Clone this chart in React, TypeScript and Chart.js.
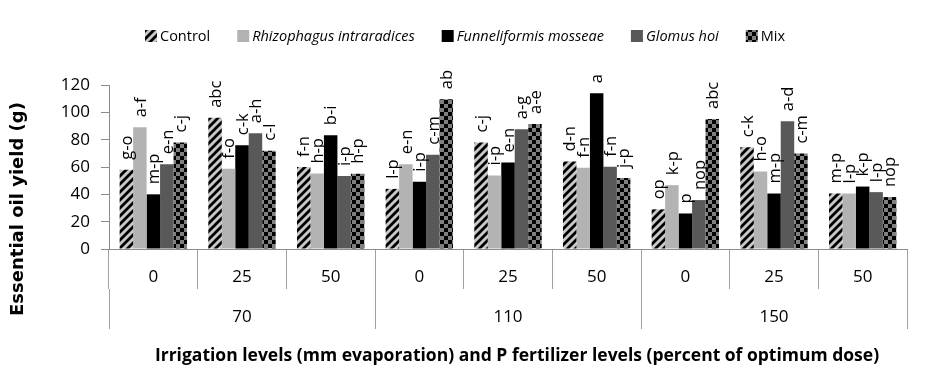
import React, { useEffect, useRef } from "react";
import { Chart, registerables } from "chart.js";

Chart.register(...registerables);

// ---- data ----
const subLabels = ["0", "25", "50", "0", "25", "50", "0", "25", "50"];
const groupLabels = ["70", "110", "150"];
const seriesNames = [
  "Control",
  "Rhizophagus intraradices",
  "Funneliformis mosseae",
  "Glomus hoi",
  "Mix",
];
const controlValues = [58, 96, 60, 44, 78, 64, 29, 74.5, 40.6];
const rhizoValues = [89, 58.7, 55.2, 62, 53.8, 59.4, 46.7, 56.7, 40.6];
const funnelValues = [40, 76, 83.3, 49.2, 63.3, 114, 26, 40.6, 45.7];
const glomusValues = [62, 84.7, 53.5, 69, 87.7, 60.1, 35.8, 93.5, 41.6];
const mixValues = [78, 71.8, 55, 109.6, 91.5, 51.9, 95.2, 69.8, 38];

const controlLetters = ["g-o", "abc", "f-n", "l-p", "c-j", "d-n", "op", "c-k", "m-p"];
const rhizoLetters = ["a-f", "f-o", "h-p", "e-n", "i-p", "f-n", "k-p", "h-o", "l-p"];
const funnelLetters = ["m-p", "c-k", "b-i", "i-p", "e-n", "a", "p", "m-p", "k-p"];
const glomusLetters = ["e-n", "a-h", "i-p", "c-m", "a-g", "f-n", "nop", "a-d", "l-p"];
const mixLetters = ["c-j", "c-l", "h-p", "ab", "a-e", "j-p", "abc", "c-m", "nop"];

const yTitle = "Essential oil yield (g)";
const xTitle =
  "Irrigation levels (mm evaporation) and P fertilizer levels (percent of optimum dose)";

const FONT = "'Open Sans', 'Noto Sans', sans-serif";

function makeHatch(): CanvasPattern | string {
  const c = document.createElement("canvas");
  c.width = 8;
  c.height = 8;
  const g = c.getContext("2d")!;
  g.fillStyle = "#c8c8c8";
  g.fillRect(0, 0, 8, 8);
  g.strokeStyle = "#000";
  g.lineWidth = 2.8;
  g.beginPath();
  g.moveTo(-2, 10);
  g.lineTo(10, -2);
  g.moveTo(-2, 2);
  g.lineTo(2, -2);
  g.moveTo(6, 10);
  g.lineTo(10, 6);
  g.stroke();
  return g.createPattern(c, "repeat") || "#999";
}

function makeChecker(): CanvasPattern | string {
  const c = document.createElement("canvas");
  c.width = 8;
  c.height = 8;
  const g = c.getContext("2d")!;
  g.fillStyle = "#808080";
  g.fillRect(0, 0, 8, 8);
  g.fillStyle = "#000";
  g.fillRect(0, 0, 4, 4);
  g.fillRect(4, 4, 4, 4);
  return g.createPattern(c, "repeat") || "#444";
}

export default function App() {
  const ref = useRef<HTMLCanvasElement | null>(null);

  useEffect(() => {
    document.body.style.margin = "0";
    const canvas = ref.current;
    if (!canvas) return;
    const hatch = makeHatch();
    const checker = makeChecker();
    const fills = [hatch, "#b3b3b3", "#000000", "#595959", checker];
    const values = [controlValues, rhizoValues, funnelValues, glomusValues, mixValues];
    const letters = [controlLetters, rhizoLetters, funnelLetters, glomusLetters, mixLetters];

    const barLabelPlugin = {
      id: "barLetters",
      afterDatasetsDraw(chart: any) {
        const ctx = chart.ctx;
        ctx.save();
        ctx.font = `16.5px ${FONT}`;
        ctx.fillStyle = "#000";
        ctx.textAlign = "left";
        ctx.textBaseline = "middle";
        chart.data.datasets.forEach((ds: any, di: number) => {
          const meta = chart.getDatasetMeta(di);
          meta.data.forEach((bar: any, i: number) => {
            const txt = letters[di][i];
            ctx.save();
            ctx.translate(bar.x + 1, bar.y - 10);
            ctx.rotate(-Math.PI / 2);
            ctx.fillText(txt, 0, 0);
            ctx.restore();
          });
        });
        ctx.restore();
      },
    };

    const decorPlugin = {
      id: "decor",
      afterDraw(chart: any) {
        const ctx = chart.ctx;
        // y title centred on plot + category area
        ctx.save();
        ctx.font = `bold 18px 'DejaVu Sans', sans-serif`;
        ctx.fillStyle = "#000";
        ctx.textAlign = "center";
        ctx.textBaseline = "middle";
        ctx.translate(18, 209);
        ctx.rotate(-Math.PI / 2);
        ctx.fillText(yTitle, 0, 0);
        ctx.restore();

        // x title
        ctx.save();
        ctx.font = `bold 17.5px ${FONT}`;
        ctx.fillStyle = "#000";
        ctx.textAlign = "center";
        ctx.textBaseline = "middle";
        ctx.fillText(xTitle, 517, 356);
        ctx.restore();

        // legend
        ctx.save();
        const box = 12;
        const gapIcon = 3;
        const gapItem = 27;
        const fontsFor = (i: number) =>
          i >= 1 && i <= 3 ? `italic 14.5px ${FONT}` : `14.5px ${FONT}`;
        let x = 145;
        const yc = 36;
        seriesNames.forEach((n, i) => {
          ctx.fillStyle = fills[i] as any;
          ctx.fillRect(x, yc - box / 2, box, box);
          ctx.fillStyle = "#000";
          ctx.font = fontsFor(i);
          ctx.textAlign = "left";
          ctx.textBaseline = "middle";
          ctx.fillText(n, x + box + gapIcon, yc + 1);
          const w = ctx.measureText(n).width;
          x += box + gapIcon + w + gapItem;
        });
        ctx.restore();
      },
    };

    const chart = new Chart(canvas, {
      type: "bar",
      data: {
        labels: subLabels,
        datasets: seriesNames.map((name, i) => ({
          label: name,
          data: values[i],
          backgroundColor: fills[i] as any,
          borderWidth: 0,
          xAxisID: "x",
          yAxisID: "y",
          categoryPercentage: 0.76,
          barPercentage: 1,
        })),
      },
      options: {
        animation: false,
        responsive: false,
        maintainAspectRatio: false,
        layout: { padding: { left: 0, right: 24, top: 85, bottom: 0 } },
        plugins: {
          legend: { display: false },
          tooltip: { enabled: false },
        },
        scales: {
          y: {
            min: 0,
            max: 120,
            ticks: {
              stepSize: 20,
              padding: 11,
              color: "#000",
              font: { family: FONT, size: 17 },
            },
            grid: {
              drawOnChartArea: false,
              drawTicks: true,
              tickLength: 8,
              color: "#8c8c8c",
            },
            border: { display: true, color: "#8c8c8c" },
            afterFit: (s: any) => {
              s.width = 109;
            },
          },
          x: {
            type: "category",
            position: "bottom",
            offset: true,
            grid: {
              offset: true,
              drawOnChartArea: false,
              drawTicks: true,
              tickLength: 40,
              color: "#a0a0a0",
            },
            border: { display: true, color: "#8c8c8c" },
            ticks: {
              padding: -22,
              color: "#000",
              maxRotation: 0,
              autoSkip: false,
              font: { family: FONT, size: 17 },
            },
            afterFit: (s: any) => {
              s.height = 40;
            },
          },
          x2: {
            type: "category",
            position: "bottom",
            labels: groupLabels,
            offset: true,
            grid: {
              offset: true,
              drawOnChartArea: false,
              drawTicks: true,
              tickLength: 40,
              color: "#a0a0a0",
            },
            border: { display: false },
            ticks: {
              padding: -22,
              color: "#000",
              maxRotation: 0,
              autoSkip: false,
              font: { family: FONT, size: 17 },
            },
            afterFit: (s: any) => {
              s.height = 85;
            },
          },
        },
      } as any,
      plugins: [barLabelPlugin, decorPlugin],
    });
    return () => chart.destroy();
  }, []);

  return (
    <div style={{ position: "absolute", left: 0, top: 0, width: 931, height: 374, background: "#fff" }}>
      <canvas ref={ref} width={931} height={374} style={{ display: "block" }} />
    </div>
  );
}
